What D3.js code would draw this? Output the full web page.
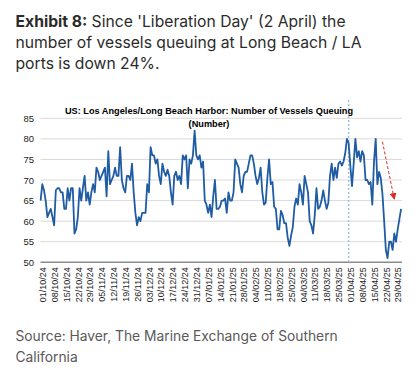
<!DOCTYPE html>
<html><head><meta charset="utf-8">
<script src="https://cdn.jsdelivr.net/npm/d3@7"></script>
<style>body{margin:0;background:#fff}svg{display:block}</style>
</head><body><svg id="c" width="418" height="368"></svg>
<script>
// ---- data ----
const headline = ["Exhibit 8:", " Since 'Liberation Day' (2 April) the", "number of vessels queuing at Long Beach / LA", "ports is down 24%."];
const chartTitle = ["US: Los Angeles/Long Beach Harbor: Number of Vessels Queuing", "(Number)"];
const sourceLines = ["Source: Haver, The Marine Exchange of Southern", "California"];
const startDate = "30/09/24"; // first daily observation
const vesselsQueuing = [
  65, 69, 67.5, 65, 61, 62, 63, 61, 59, 67.5,
  68, 68, 67, 67, 63, 63, 68, 65, 68, 68,
  57, 58, 61, 68, 65, 68, 71, 65, 67, 64,
  67, 69, 67, 73, 72, 70, 71, 72, 73, 66,
  77, 69, 70, 71, 73, 71, 71, 78, 70, 68,
  67, 71, 71, 70, 74, 67, 62, 59,
  61, 60, 62, 62, 62, 69, 67, 78, 76, 76,
  74, 75, 71, 69, 74, 72, 71, 72.5, 71, 67,
  64, 71, 72, 70, 71, 69, 76, 75, 76, 68,
  75, 74, 76, 82, 76, 75, 76, 73, 74.5, 65,
  64, 62, 64, 61, 66, 70, 63, 63, 63.5, 65,
  65, 65.5, 62, 67, 65, 65, 67, 75, 74, 73,
  69, 67, 71, 72, 72, 74, 76, 76, 74, 71,
  69, 70.5,
  73, 67, 64, 64.5, 70.5, 75, 69, 69.5, 63.5, 63,
  58, 58, 62.5, 61.5, 59.5, 59.5, 56, 54, 56.5, 58.5,
  63.5, 65.5, 64, 69, 67, 64, 71, 69, 67, 60,
  59, 57, 61.5, 68, 63, 63.5, 65, 67.5, 65, 63,
  64.5, 71, 74, 70, 73, 70.5, 74, 74.5, 73.5, 74.5,
  76.5, 80, 79, 73.5, 68.5, 74, 80, 75.5, 77, 74.5,
  77, 76, 70, 70, 69, 69.5, 64, 74.5, 80, 69,
  72, 70.5, 66.5, 60, 53, 51, 55, 55, 53, 57,
  55, 58, 60.5, 63
];
const xTickLabels = ["01/10/24","08/10/24","15/10/24","22/10/24","29/10/24","05/11/24","12/11/24","19/11/24","26/11/24",
  "03/12/24","10/12/24","17/12/24","24/12/24","31/12/24","07/01/25","14/01/25","21/01/25","28/01/25","04/02/25",
  "11/02/25","18/02/25","25/02/25","04/03/25","11/03/25","18/03/25","25/03/25","01/04/25","08/04/25","15/04/25",
  "22/04/25","29/04/25"];
const yTicks = [50, 55, 60, 65, 70, 75, 80, 85];
const markerDate = "31/03/25";
const arrowFrom = {date: "20/04/25", value: 79.3};
const arrowTo = {date: "27/04/25", value: 65.3};

// ---- drawing ----
const parse = d3.utcParse("%d/%m/%y");
const svg = d3.select("#c");
const start = parse(startDate);
const series = vesselsQueuing.map((v, i) => ({date: d3.utcDay.offset(start, i), value: v}));
const tickDates = xTickLabels.map(parse);

const x = d3.scaleUtc().domain([tickDates[0], tickDates[tickDates.length - 1]]).range([42.3, 397.7]);
const y = d3.scaleLinear().domain([50, 85]).range([262.3, 118.3]);
const plotLeft = 40.5, plotRight = 402;

// headline
const hf = "Inter, 'Noto Sans', sans-serif", hs = 15.7, hc = "#2b2b2b";
const h = svg.append("text").attr("x", 15.5).attr("y", 26.5)
  .attr("font-family", hf).attr("font-size", hs).attr("fill", hc);
h.append("tspan").attr("font-weight", 700).text(headline[0]);
h.append("tspan").text(headline[1]);
svg.append("text").attr("x", 15.5).attr("y", 47.5).attr("font-family", hf).attr("font-size", hs).attr("fill", hc).text(headline[2]);
svg.append("text").attr("x", 15.5).attr("y", 68.5).attr("font-family", hf).attr("font-size", hs).attr("fill", hc).text(headline[3]);

// grid
svg.append("g").selectAll("line").data(yTicks.filter(t => t > 50)).join("line")
  .attr("x1", plotLeft).attr("x2", plotRight)
  .attr("y1", d => y(d)).attr("y2", d => y(d))
  .attr("stroke", "#d9d9d9").attr("stroke-width", 1);

// y axis labels
const yAxis = svg.append("g").attr("transform", `translate(34,0)`)
  .call(d3.axisLeft(y).tickValues(yTicks).tickSize(0).tickPadding(0));
yAxis.select(".domain").remove();
yAxis.selectAll("text").attr("font-family", "'Liberation Sans', Arial, sans-serif").attr("font-size", 9.5).attr("fill", "#222");

// x axis
const xAxis = svg.append("g").attr("transform", `translate(0,${y(50)})`)
  .call(d3.axisBottom(x).tickValues(tickDates).tickFormat(d3.utcFormat("%d/%m/%y")).tickSize(0).tickPadding(0));
xAxis.select(".domain").remove();
xAxis.selectAll("text")
  .attr("font-family", "'Liberation Sans', Arial, sans-serif").attr("font-size", 9).attr("fill", "#222")
  .attr("text-anchor", "end").attr("dy", null).attr("y", 0)
  .attr("transform", "translate(3.2,5) rotate(-90)");
svg.append("line").attr("x1", plotLeft).attr("x2", plotRight).attr("y1", y(50)).attr("y2", y(50))
  .attr("stroke", "#8c8c8c").attr("stroke-width", 1.5);

// liberation day marker
svg.append("line").attr("x1", x(parse(markerDate))).attr("x2", x(parse(markerDate)))
  .attr("y1", 100).attr("y2", y(50) - 1)
  .attr("stroke", "#9dc3e6").attr("stroke-width", 1.5).attr("stroke-dasharray", "2,2");

// chart title
svg.append("g").selectAll("text").data(chartTitle).join("text")
  .attr("x", 209).attr("y", (d, i) => 113.5 + i * 13.3)
  .attr("text-anchor", "middle").attr("font-family", "'Liberation Sans', Arial, sans-serif")
  .attr("font-weight", 700).attr("font-size", 9.2).attr("fill", "#000").text(d => d);

// line
svg.append("path").datum(series)
  .attr("d", d3.line().x(d => x(d.date)).y(d => y(d.value)))
  .attr("fill", "none").attr("stroke", "#1f5ca3").attr("stroke-width", 1.8).attr("stroke-linejoin", "round");

// red arrow
svg.append("defs").append("marker").attr("id", "ah").attr("viewBox", "0 0 10 10")
  .attr("refX", 9).attr("refY", 5).attr("markerWidth", 7).attr("markerHeight", 7)
  .attr("markerUnits", "userSpaceOnUse").attr("orient", "auto")
  .append("path").attr("d", "M0,0 L10,5 L0,10 Z").attr("fill", "#e02a2a");
svg.append("line")
  .attr("x1", x(parse(arrowFrom.date))).attr("y1", y(arrowFrom.value))
  .attr("x2", x(parse(arrowTo.date))).attr("y2", y(arrowTo.value))
  .attr("stroke", "#e02a2a").attr("stroke-width", 1).attr("stroke-dasharray", "3,2")
  .attr("marker-end", "url(#ah)");

// source
svg.append("g").selectAll("text").data(sourceLines).join("text")
  .attr("x", 15.5).attr("y", (d, i) => 340.5 + i * 21)
  .attr("font-family", "Inter, sans-serif").attr("font-size", 13.8).attr("fill", "#595959").text(d => d);
</script></body></html>
